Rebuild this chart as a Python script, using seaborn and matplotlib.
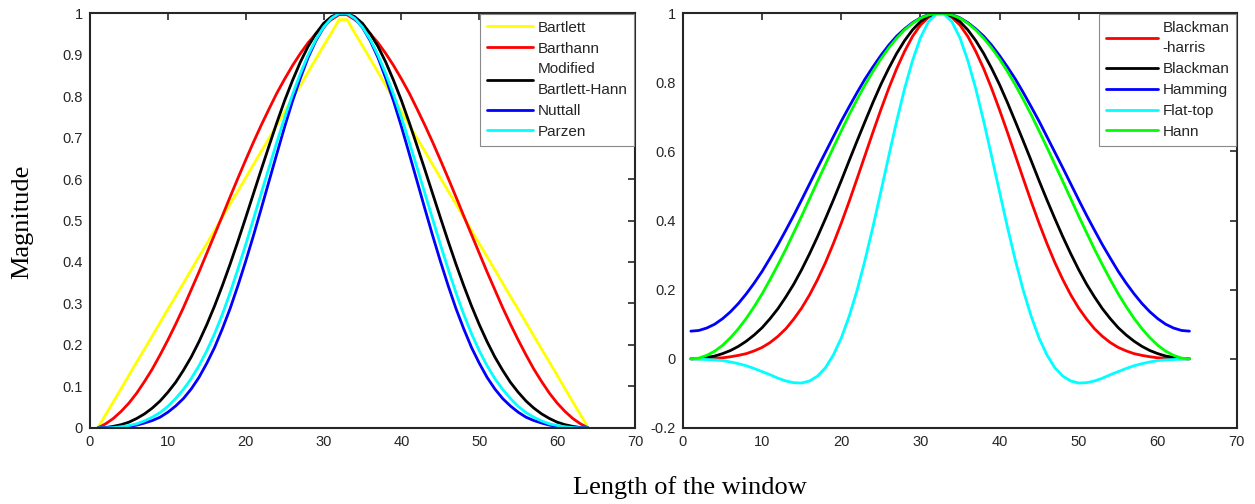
import seaborn as sns
import matplotlib.pyplot as plt

# sample index of the 64-point windows
window_index = list(range(1, 65))

# left panel
bartlett = [0, 0.032, 0.063, 0.095, 0.127, 0.159, 0.190, 0.222, 0.254, 0.286, 0.317, 0.349, 0.381, 0.413, 0.444, 0.476,
            0.508, 0.540, 0.571, 0.603, 0.635, 0.667, 0.698, 0.730, 0.762, 0.794, 0.825, 0.857, 0.889, 0.921, 0.952, 0.984,
            0.984, 0.952, 0.921, 0.889, 0.857, 0.825, 0.794, 0.762, 0.730, 0.698, 0.667, 0.635, 0.603, 0.571, 0.540, 0.508,
            0.476, 0.444, 0.413, 0.381, 0.349, 0.317, 0.286, 0.254, 0.222, 0.190, 0.159, 0.127, 0.095, 0.063, 0.032, 0]
barthann = [0, 0.010, 0.023, 0.040, 0.060, 0.084, 0.112, 0.142, 0.176, 0.212, 0.250, 0.290, 0.333, 0.376, 0.421, 0.466,
            0.511, 0.557, 0.602, 0.646, 0.689, 0.730, 0.769, 0.807, 0.841, 0.873, 0.902, 0.928, 0.950, 0.969, 0.984, 0.996,
            0.996, 0.984, 0.969, 0.950, 0.928, 0.902, 0.873, 0.841, 0.807, 0.769, 0.730, 0.689, 0.646, 0.602, 0.557, 0.511,
            0.466, 0.421, 0.376, 0.333, 0.290, 0.250, 0.212, 0.176, 0.142, 0.112, 0.084, 0.060, 0.040, 0.023, 0.010, 0]
mod_barthann = [0, 0.001, 0.004, 0.008, 0.014, 0.023, 0.034, 0.048, 0.065, 0.086, 0.110, 0.139, 0.171, 0.208, 0.249, 0.294,
                0.343, 0.395, 0.450, 0.507, 0.565, 0.623, 0.680, 0.736, 0.789, 0.837, 0.881, 0.919, 0.950, 0.975, 0.991, 0.999,
                0.999, 0.991, 0.975, 0.950, 0.919, 0.881, 0.837, 0.789, 0.736, 0.680, 0.623, 0.565, 0.507, 0.450, 0.395, 0.343,
                0.294, 0.249, 0.208, 0.171, 0.139, 0.110, 0.086, 0.065, 0.048, 0.034, 0.023, 0.014, 0.008, 0.004, 0.001, 0]
nuttall = [0, 0.001, 0.001, 0.002, 0.004, 0.007, 0.012, 0.018, 0.026, 0.038, 0.053, 0.071, 0.094, 0.122, 0.156, 0.194,
           0.239, 0.288, 0.343, 0.402, 0.464, 0.529, 0.595, 0.661, 0.726, 0.787, 0.842, 0.892, 0.933, 0.965, 0.987, 0.999,
           0.999, 0.987, 0.965, 0.933, 0.892, 0.842, 0.787, 0.726, 0.661, 0.595, 0.529, 0.464, 0.402, 0.343, 0.288, 0.239,
           0.194, 0.156, 0.122, 0.094, 0.071, 0.053, 0.038, 0.026, 0.018, 0.012, 0.007, 0.004, 0.002, 0.001, 0.001, 0]
parzen = [0, 0.000, 0.001, 0.003, 0.006, 0.010, 0.017, 0.026, 0.037, 0.052, 0.071, 0.093, 0.119, 0.150, 0.186, 0.227,
          0.274, 0.326, 0.383, 0.442, 0.504, 0.566, 0.628, 0.689, 0.748, 0.803, 0.853, 0.898, 0.936, 0.966, 0.987, 0.999,
          0.999, 0.987, 0.966, 0.936, 0.898, 0.853, 0.803, 0.748, 0.689, 0.628, 0.566, 0.504, 0.442, 0.383, 0.326, 0.274,
          0.227, 0.186, 0.150, 0.119, 0.093, 0.071, 0.052, 0.037, 0.026, 0.017, 0.010, 0.006, 0.003, 0.001, 0.000, 0]

# right panel
blackman_harris = [0, 0.000, 0.001, 0.002, 0.003, 0.006, 0.010, 0.015, 0.023, 0.033, 0.047, 0.065, 0.087, 0.115, 0.147, 0.185,
                   0.229, 0.278, 0.333, 0.392, 0.455, 0.521, 0.588, 0.655, 0.720, 0.782, 0.839, 0.889, 0.932, 0.965, 0.987, 0.999,
                   0.999, 0.987, 0.965, 0.932, 0.889, 0.839, 0.782, 0.720, 0.655, 0.588, 0.521, 0.455, 0.392, 0.333, 0.278, 0.229,
                   0.185, 0.147, 0.115, 0.087, 0.065, 0.047, 0.033, 0.023, 0.015, 0.010, 0.006, 0.003, 0.002, 0.001, 0.000, 0]
blackman = [0, 0.001, 0.004, 0.008, 0.015, 0.024, 0.036, 0.051, 0.069, 0.090, 0.116, 0.145, 0.179, 0.216, 0.258, 0.304,
            0.353, 0.405, 0.459, 0.515, 0.573, 0.630, 0.686, 0.741, 0.793, 0.840, 0.883, 0.920, 0.951, 0.975, 0.991, 0.999,
            0.999, 0.991, 0.975, 0.951, 0.920, 0.883, 0.840, 0.793, 0.741, 0.686, 0.630, 0.573, 0.515, 0.459, 0.405, 0.353,
            0.304, 0.258, 0.216, 0.179, 0.145, 0.116, 0.090, 0.069, 0.051, 0.036, 0.024, 0.015, 0.008, 0.004, 0.001, 0]
hamming = [0.080, 0.082, 0.089, 0.100, 0.116, 0.136, 0.160, 0.188, 0.219, 0.253, 0.291, 0.330, 0.372, 0.415, 0.460, 0.506,
           0.552, 0.597, 0.642, 0.687, 0.729, 0.770, 0.809, 0.844, 0.877, 0.907, 0.933, 0.954, 0.972, 0.986, 0.995, 0.999,
           0.999, 0.995, 0.986, 0.972, 0.954, 0.933, 0.907, 0.877, 0.844, 0.809, 0.770, 0.729, 0.687, 0.642, 0.597, 0.552,
           0.506, 0.460, 0.415, 0.372, 0.330, 0.291, 0.253, 0.219, 0.188, 0.160, 0.136, 0.116, 0.100, 0.089, 0.082, 0.080]
flat_top = [0, -0.001, -0.002, -0.003, -0.005, -0.009, -0.014, -0.020, -0.028, -0.037, -0.046, -0.056, -0.064, -0.069, -0.070, -0.064,
            -0.050, -0.026, 0.011, 0.060, 0.123, 0.198, 0.285, 0.381, 0.483, 0.586, 0.687, 0.781, 0.862, 0.928, 0.974, 0.997,
            0.997, 0.974, 0.928, 0.862, 0.781, 0.687, 0.586, 0.483, 0.381, 0.285, 0.198, 0.123, 0.060, 0.011, -0.026, -0.050,
            -0.064, -0.070, -0.069, -0.064, -0.056, -0.046, -0.037, -0.028, -0.020, -0.014, -0.009, -0.005, -0.003, -0.002, -0.001, 0]
hann = [0, 0.002, 0.010, 0.022, 0.039, 0.061, 0.087, 0.117, 0.151, 0.188, 0.229, 0.272, 0.317, 0.365, 0.413, 0.463,
        0.513, 0.562, 0.611, 0.659, 0.706, 0.750, 0.792, 0.831, 0.867, 0.899, 0.927, 0.951, 0.970, 0.985, 0.994, 0.999,
        0.999, 0.994, 0.985, 0.970, 0.951, 0.927, 0.899, 0.867, 0.831, 0.792, 0.750, 0.706, 0.659, 0.611, 0.562, 0.513,
        0.463, 0.413, 0.365, 0.317, 0.272, 0.229, 0.188, 0.151, 0.117, 0.087, 0.061, 0.039, 0.022, 0.010, 0.002, 0]

left_series = [("Bartlett", bartlett, "#ffff00"),
               ("Barthann", barthann, "#ff0000"),
               ("Modified\nBartlett-Hann", mod_barthann, "#000000"),
               ("Nuttall", nuttall, "#0000ff"),
               ("Parzen", parzen, "#00ffff")]
right_series = [("Blackman\n-harris", blackman_harris, "#ff0000"),
                ("Blackman", blackman, "#000000"),
                ("Hamming", hamming, "#0000ff"),
                ("Flat-top", flat_top, "#00ffff"),
                ("Hann", hann, "#00ff00")]

sns.set_theme(style="white")
plt.rcParams["font.family"] = ["Liberation Sans", "DejaVu Sans"]
dark = "#262626"

fig = plt.figure(figsize=(12.55, 5.04), dpi=100)
ax1 = fig.add_axes([0.0717, 0.1508, 0.4343, 0.8234])
ax2 = fig.add_axes([0.5442, 0.1508, 0.4414, 0.8234])

for ax, series, hlen in [(ax1, left_series, 3.0), (ax2, right_series, 3.4)]:
    for name, vals, col in series:
        sns.lineplot(x=window_index, y=vals, color=col, linewidth=2, label=name, ax=ax)
    ax.set_xlim(0, 70)
    ax.set_xticks(range(0, 71, 10))
    for sp in ax.spines.values():
        sp.set_visible(True)
        sp.set_color(dark)
        sp.set_linewidth(1.5)
    ax.tick_params(direction="in", length=5, width=1.2, top=True, right=True,
                   labelsize=10.5, colors=dark, pad=5)
    leg = ax.legend(loc="upper right", borderaxespad=0.05, fontsize=11, frameon=True,
                    fancybox=False, framealpha=1, edgecolor="#8a8a8a",
                    handlelength=hlen, labelspacing=0.45, handletextpad=0.3,
                    borderpad=0.45)
    leg.get_frame().set_linewidth(0.8)
    for t in leg.get_texts():
        t.set_color(dark)
        t.set_linespacing(1.6)

ax1.set_ylim(0, 1)
ax1.set_yticks([0, 0.1, 0.2, 0.3, 0.4, 0.5, 0.6, 0.7, 0.8, 0.9, 1])
ax1.set_yticklabels(["0", "0.1", "0.2", "0.3", "0.4", "0.5", "0.6", "0.7", "0.8", "0.9", "1"])
ax2.set_ylim(-0.2, 1)
ax2.set_yticks([-0.2, 0, 0.2, 0.4, 0.6, 0.8, 1])
ax2.set_yticklabels(["-0.2", "0", "0.2", "0.4", "0.6", "0.8", "1"])

fig.text(0.018, 0.56, "Magnitude", rotation=90, ha="center", va="center",
         fontsize=19, family="Liberation Serif", color="black")
fig.text(0.550, 0.032, "Length of the window", ha="center", va="center",
         fontsize=19, family="Liberation Serif", color="black")

fig.savefig("out.png", dpi=100)
plt.close(fig)
